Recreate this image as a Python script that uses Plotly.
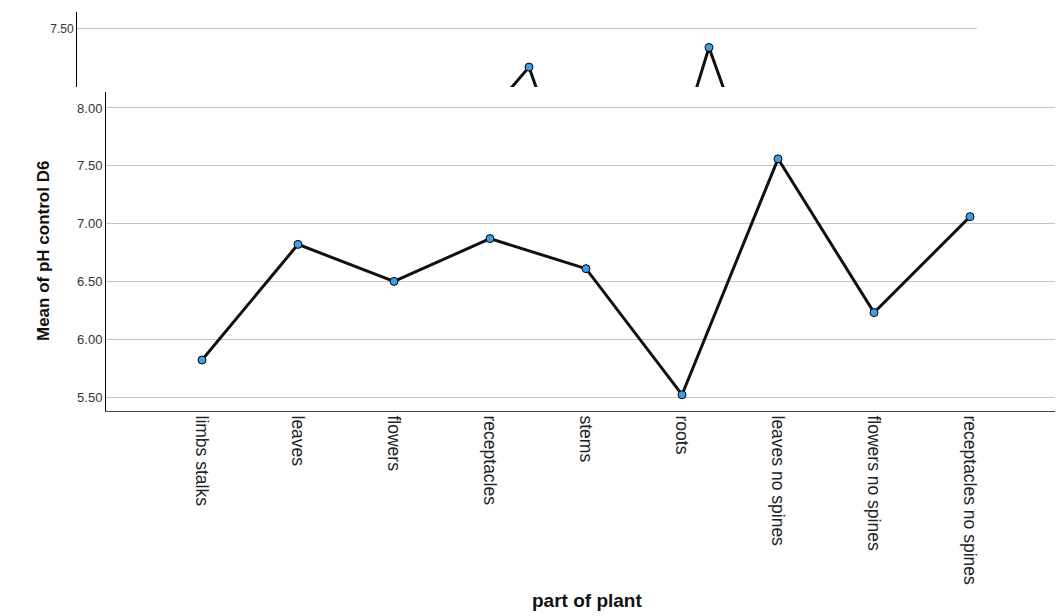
import plotly.graph_objects as go

# Main chart data
categories = ["limbs stalks", "leaves", "flowers", "receptacles", "stems", "roots",
              "leaves no spines", "flowers no spines", "receptacles no spines"]
mean_ph = [5.82, 6.82, 6.50, 6.87, 6.61, 5.52, 7.56, 6.23, 7.06]
y_ticks = [5.5, 6.0, 6.5, 7.0, 7.5, 8.0]

# Fragment of an overlapping chart visible at the top (values estimated)
frag_x = [3.6, 4.52, 4.8, 5.9, 6.32, 6.7]
frag_y = [6.24, 7.17, 6.48, 6.16, 7.34, 6.42]
frag_ticks = [7.5]

W, H = 1057, 616
L, R, T, B = 77, 2, 12, 205
pw, ph = W - L - R, H - T - B

def px_x(p):
    return (p - L) / pw

def px_y(p):
    return (H - B - p) / ph

marker = dict(size=8, color="#3a9fe6", line=dict(color="#000000", width=1))
line = dict(color="#111111", width=3)

fig = go.Figure()
fig.add_trace(go.Scatter(x=list(range(len(categories))), y=mean_ph, mode="lines+markers",
                         line=line, marker=marker, xaxis="x", yaxis="y", cliponaxis=True,
                         showlegend=False, hoverinfo="skip"))
fig.add_trace(go.Scatter(x=frag_x, y=frag_y, mode="lines+markers",
                         line=line, marker=marker, xaxis="x2", yaxis="y2", cliponaxis=True,
                         showlegend=False, hoverinfo="skip"))

font = "Liberation Sans, Arial, sans-serif"
grid = "#c4c4c4"

fig.update_layout(
    width=W, height=H,
    margin=dict(l=L, r=R, t=T, b=B),
    paper_bgcolor="white", plot_bgcolor="white",
    font=dict(family=font, color="#222222"),
    xaxis=dict(domain=[px_x(106), 1.0], range=[-1.0, 8.885],
               tickmode="array", tickvals=list(range(len(categories))), ticktext=categories,
               tickangle=90, tickfont=dict(size=17.5, color="#222222"),
               showgrid=False, zeroline=False, showline=True, linecolor="#444444",
               linewidth=1, anchor="y", ticks=""),
    yaxis=dict(domain=[0, px_y(92)], range=[5.379, 8.138],
               tickvals=y_ticks, tickformat=".2f", tickfont=dict(size=13, color="#333333"),
               showgrid=True, gridcolor=grid, gridwidth=1, zeroline=False,
               showline=True, linecolor="#000000", linewidth=1, anchor="x", ticks=""),
    xaxis2=dict(domain=[0, px_x(977)], range=[0, 9], visible=False, anchor="y2"),
    yaxis2=dict(domain=[px_y(87), 1.0], range=[6.998, 7.647],
                tickvals=frag_ticks, tickformat=".2f", tickfont=dict(size=12, color="#333333"),
                showgrid=True, gridcolor=grid, gridwidth=1, zeroline=False,
                showline=True, linecolor="#000000", linewidth=1, anchor="x2", ticks=""),
    annotations=[
        dict(text="<b>Mean of pH control D6</b>", textangle=-90, x=px_x(43), y=px_y(251),
             xref="paper", yref="paper", showarrow=False, xanchor="center", yanchor="middle",
             font=dict(size=17, color="#111111", family=font)),
        dict(text="<b>part of plant</b>", x=px_x(587), y=px_y(600),
             xref="paper", yref="paper", showarrow=False, xanchor="center", yanchor="middle",
             font=dict(size=19, color="#111111", family=font)),
    ],
)

fig.write_html("out.html", config={"displayModeBar": False},
               post_script="document.body.style.margin='0';document.body.style.overflow='hidden';")
